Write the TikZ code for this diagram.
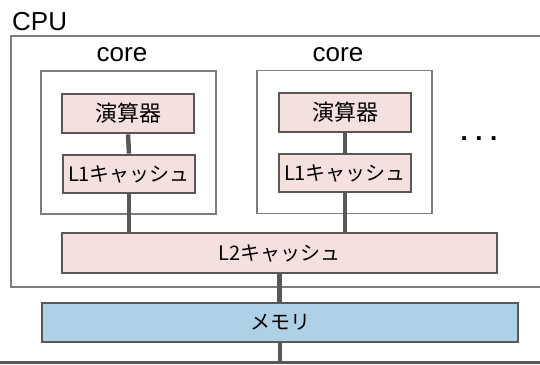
\documentclass[tikz,border=0pt]{standalone}
\usepackage{fontspec}
\setmainfont{Liberation Sans}
\newfontfamily\jp{Noto Sans CJK JP}
\definecolor{pinkfill}{RGB}{245,224,224}
\definecolor{bluefill}{RGB}{174,209,230}
\definecolor{darkline}{RGB}{90,87,84}
\definecolor{thinline}{RGB}{125,125,125}
\tikzset{
  frame/.style={draw=thinline, line width=1.2pt, fill=white, inner sep=0pt},
  unitbox/.style={draw=darkline, line width=2.8pt, fill=pinkfill, inner sep=0pt,
    font=\jp\fontsize{20}{22}\selectfont},
  membox/.style={unitbox, fill=bluefill},
  wire/.style={draw=darkline, line width=4.5pt},
  lbl/.style={inner sep=0pt, font=\fontsize{25}{28}\selectfont}
}
\begin{document}
\begin{tikzpicture}[x=1pt,y=-1pt]
\useasboundingbox (0,0) rectangle (540,364);
\clip (0,0) rectangle (540,364);
% CPU
\node[lbl, anchor=base west, font=\fontsize{26}{28}\selectfont] (cpulbl) at (12,30) {CPU};
\node[frame, minimum width=549pt, minimum height=251pt] (cpu) at (285.5,161.5) {};
% cores
\node[lbl, font=\fontsize{26}{28}\selectfont] (corelbl1) at (122,55) {core};
\node[lbl, font=\fontsize{26}{28}\selectfont] (corelbl2) at (338,55) {core};
\node[frame, minimum width=175pt, minimum height=143pt] (core1) at (128.5,142.5) {};
\node[frame, minimum width=175pt, minimum height=143pt] (core2) at (344.5,142) {};
% units
\node[unitbox, minimum width=132pt, minimum height=39pt, font=\jp\fontsize{22}{24}\selectfont] (alu1) at (128,113.5) {演算器};
\node[unitbox, minimum width=132pt, minimum height=38pt] (l1a) at (129,174) {L1キャッシュ};
\node[unitbox, minimum width=132pt, minimum height=39pt, font=\jp\fontsize{22}{24}\selectfont] (alu2) at (345,112.5) {演算器};
\node[unitbox, minimum width=132pt, minimum height=38pt] (l1b) at (345,173) {L1キャッシュ};
\node[unitbox, minimum width=435pt, minimum height=40pt] (l2) at (279.5,253) {L2キャッシュ};
\node[membox, minimum width=476pt, minimum height=39pt] (mem) at (280,322.5) {メモリ};
% dots
\node[inner sep=0pt, font=\bfseries\fontsize{26}{28}\selectfont] (dots) at (479,139) {.\hspace{7.5pt}.\hspace{7.5pt}.};
% bus
\coordinate (busL) at (0,362);
\coordinate (busR) at (540,362);
% connectors
\draw[wire] (alu1.south) -- (l1a.north);
\draw[wire] (l1a.south) -- (l1a.south |- l2.north);
\draw[wire] (alu2.south) -- (l1b.north);
\draw[wire] (l1b.south) -- (l1b.south |- l2.north);
\draw[wire] (l2.south) -- (l2.south |- mem.north);
\draw[wire] (mem.south) -- (mem.south |- busL);
\draw[draw=darkline, line width=3pt] (busL) -- (busR);
\end{tikzpicture}
\end{document}
